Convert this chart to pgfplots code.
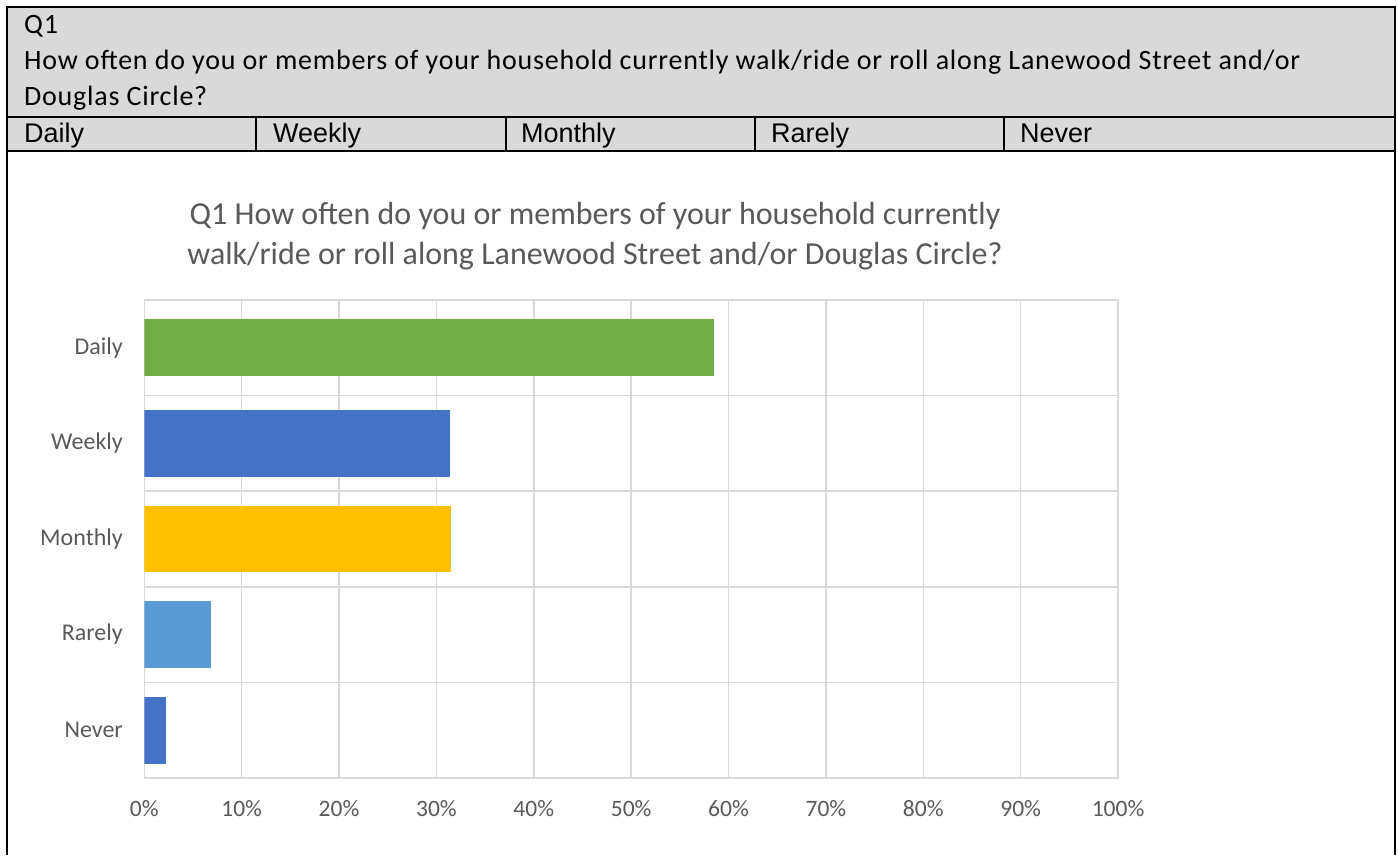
\documentclass[border=0pt]{standalone}
\usepackage{fontspec}
\setmainfont{Carlito}
\newfontfamily\hdrfont[LetterSpace=2.8]{Carlito}
\newfontfamily\narrow{Liberation Sans}
\usepackage{pgfplots}
\pgfplotsset{compat=1.18}
\definecolor{hdr}{HTML}{D9D9D9}
\definecolor{gridc}{HTML}{D9D9D9}
\definecolor{txt}{HTML}{595959}
\definecolor{cgreen}{HTML}{70AD47}
\definecolor{cblue}{HTML}{4472C4}
\definecolor{cgold}{HTML}{FFC000}
\definecolor{clblue}{HTML}{5B9BD5}
\begin{document}
\begin{tikzpicture}[x=1bp,y=1bp]
\path[use as bounding box] (0,0) rectangle (1398,855);
% header table
\fill[hdr] (7,848) rectangle (1395,704);
\draw[black,line width=2bp] (7,0) -- (7,848) -- (1395,848) -- (1395,0);
\draw[black,line width=2bp] (7,738) -- (1395,738);
\draw[black,line width=2bp] (7,704) -- (1395,704);
\foreach \xx in {256,506,755,1004} \draw[black,line width=2bp] (\xx,704) -- (\xx,738);
\node[anchor=base west,inner sep=0pt,font=\hdrfont\fontsize{28bp}{32bp}\selectfont] at (24,821) {Q1};
\node[anchor=base west,inner sep=0pt,font=\hdrfont\fontsize{28bp}{32bp}\selectfont] at (24,785) {How often do you or members of your household currently walk/ride or roll along Lanewood Street and/or};
\node[anchor=base west,inner sep=0pt,font=\hdrfont\fontsize{28bp}{32bp}\selectfont] at (24,749) {Douglas Circle?};
\foreach \xx/\lab in {24/Daily,273/Weekly,521/Monthly,771/Rarely,1020/Never}
  \node[anchor=base west,inner sep=0pt,font=\narrow\fontsize{27bp}{30bp}\selectfont] at (\xx,712) {\lab};
% chart title
\node[align=center,text=txt,font=\fontsize{32bp}{40bp}\selectfont] at (595,619)
  {Q1 How often do you or members of your household currently\\walk/ride or roll along Lanewood Street and/or Douglas Circle?};
\begin{axis}[
  at={(144.3bp,77bp)}, anchor=south west,
  scale only axis, width=973.7bp, height=478bp,
  xmin=0, xmax=100, ymin=-0.5, ymax=4.5,
  xtick={0,10,...,100},
  xticklabels={0\%,10\%,20\%,30\%,40\%,50\%,60\%,70\%,80\%,90\%,100\%},
  ytick={0,1,2,3,4},
  yticklabels={Never,Rarely,Monthly,Weekly,Daily},
  minor ytick={-0.5,0.5,1.5,2.5,3.5,4.5},
  xmajorgrids, yminorgrids,
  major tick length=0pt, minor tick length=0pt,
  grid style={gridc,line width=1.5bp},
  minor grid style={gridc,line width=1.5bp},
  axis line style={gridc,line width=1.5bp},
  xticklabel style={font=\fontsize{23.5bp}{26bp}\selectfont,text=txt,yshift=-19bp},
  yticklabel style={font=\fontsize{24bp}{26bp}\selectfont,text=txt,xshift=-18bp},
]
\addplot[xbar,bar shift=0pt,bar width=0.6,fill=cgreen,draw=none] coordinates {(58.5,4)};
\addplot[xbar,bar shift=0pt,bar width=0.7,fill=cblue,draw=none] coordinates {(31.4,3)};
\addplot[xbar,bar shift=0pt,bar width=0.7,fill=cgold,draw=none] coordinates {(31.5,2)};
\addplot[xbar,bar shift=0pt,bar width=0.7,fill=clblue,draw=none] coordinates {(6.85,1)};
\addplot[xbar,bar shift=0pt,bar width=0.7,fill=cblue,draw=none] coordinates {(2.2,0)};
\end{axis}
\end{tikzpicture}
\end{document}
